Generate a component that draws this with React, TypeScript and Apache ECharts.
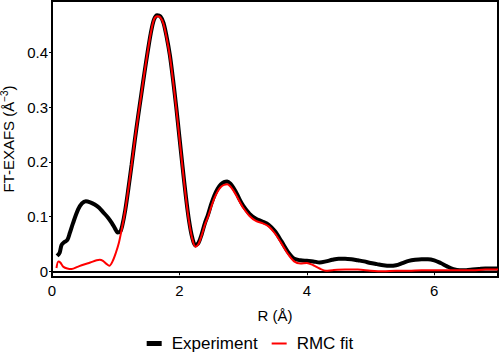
import React, { useEffect, useRef } from "react";
import * as echarts from "echarts";

const seriesNames = ["Experiment", "RMC fit"];

const expR = [0.08,0.12,0.15,0.19,0.24,0.28,0.33,0.41,0.47,0.53,0.60,0.67,0.74,0.81,0.88,0.94,0.99,1.03,1.07,1.10,1.15,1.20,1.25,1.30,1.35,1.40,1.45,1.50,1.55,1.60,1.65,1.70,1.75,1.80,1.85,1.90,1.95,2.00,2.05,2.10,2.15,2.20,2.25,2.30,2.35,2.40,2.45,2.50,2.55,2.60,2.65,2.70,2.75,2.80,2.85,2.90,2.95,3.00,3.10,3.20,3.30,3.40,3.50,3.60,3.70,3.80,3.90,4.00,4.10,4.20,4.30,4.40,4.50,4.60,4.70,4.80,4.90,5.00,5.10,5.20,5.30,5.40,5.50,5.60,5.70,5.80,5.90,6.00,6.10,6.20,6.30,6.40,6.50,6.60,6.70,6.80,6.90,7.00];
const expFT = [0.028,0.034,0.048,0.053,0.057,0.070,0.088,0.113,0.124,0.128,0.126,0.122,0.116,0.107,0.098,0.088,0.078,0.071,0.072,0.082,0.112,0.152,0.195,0.240,0.282,0.322,0.362,0.400,0.435,0.460,0.468,0.466,0.454,0.428,0.395,0.350,0.300,0.245,0.190,0.138,0.093,0.062,0.047,0.052,0.068,0.088,0.104,0.123,0.139,0.151,0.159,0.163,0.164,0.160,0.152,0.142,0.130,0.120,0.105,0.096,0.091,0.085,0.073,0.055,0.036,0.023,0.020,0.019,0.018,0.016,0.018,0.021,0.023,0.023,0.022,0.020,0.018,0.015,0.013,0.011,0.010,0.011,0.015,0.019,0.021,0.022,0.022,0.020,0.015,0.009,0.004,0.002,0.002,0.003,0.004,0.005,0.005,0.005];

const fitR = [0.07,0.10,0.13,0.18,0.24,0.31,0.40,0.49,0.60,0.70,0.75,0.80,0.85,0.90,0.95,1.00,1.05,1.10,1.15,1.20,1.25,1.30,1.35,1.40,1.45,1.50,1.55,1.60,1.65,1.70,1.75,1.80,1.85,1.90,1.95,2.00,2.05,2.10,2.15,2.20,2.25,2.30,2.35,2.40,2.45,2.50,2.55,2.60,2.65,2.70,2.75,2.80,2.85,2.90,2.95,3.00,3.10,3.20,3.30,3.40,3.50,3.60,3.70,3.80,3.90,4.00,4.10,4.20,4.30,4.40,4.60,4.80,5.00,5.20,5.40,5.60,5.80,6.00,6.20,6.40,6.60,6.80,7.00];
const fitFT = [0.006,0.018,0.016,0.008,0.005,0.004,0.008,0.012,0.016,0.020,0.021,0.019,0.014,0.010,0.018,0.033,0.052,0.080,0.112,0.152,0.195,0.240,0.282,0.322,0.362,0.400,0.435,0.460,0.466,0.464,0.452,0.426,0.393,0.348,0.298,0.243,0.188,0.136,0.091,0.060,0.045,0.050,0.066,0.085,0.100,0.118,0.134,0.146,0.154,0.158,0.159,0.155,0.147,0.137,0.126,0.116,0.101,0.092,0.088,0.082,0.069,0.051,0.032,0.018,0.014,0.015,0.011,0.005,0.001,0.002,0.003,0.003,0.001,0.000,0.001,0.001,0.002,0.002,0.002,0.002,0.002,0.003,0.003];

const xTicks = [0, 2, 4, 6];
const yTicks = [0, 0.1, 0.2, 0.3, 0.4];

export default function App() {
  const ref = useRef<HTMLDivElement>(null);
  useEffect(() => {
    const chart = echarts.init(ref.current!, null, { renderer: "svg" });
    const font = "Liberation Sans, Arial, sans-serif";
    chart.setOption({
      animation: false,
      grid: {
        left: 52,
        right: 2,
        top: 1,
        bottom: 85,
        containLabel: false,
        outerBoundsMode: "none",
        show: true,
        borderColor: "#000",
        borderWidth: 2,
        backgroundColor: "transparent",
      },
      legend: {
        bottom: 5,
        left: "center",
        itemWidth: 15,
        itemHeight: 5,
        itemGap: 14,
        textStyle: { fontFamily: font, fontSize: 17, color: "#000", padding: [0, 0, 0, 5] },
        data: [
          { name: seriesNames[0], icon: "rect" },
          { name: seriesNames[1], icon: "path://M0,0 M15,5 M0,1.5 L15,1.5 L15,3.5 L0,3.5 Z" },
        ],
      },
      xAxis: {
        type: "value",
        min: 0,
        max: 7,
        name: "R (Å)",
        nameLocation: "middle",
        nameGap: 31,
        nameTextStyle: { fontFamily: font, fontSize: 15, color: "#000" },
        axisLine: { lineStyle: { color: "#000", width: 2 } },
        axisTick: { length: 4, customValues: xTicks, lineStyle: { color: "#000" } },
        axisLabel: { customValues: xTicks, margin: 6, fontFamily: font, fontSize: 15, color: "#000" },
        splitLine: { show: false },
      },
      yAxis: {
        type: "value",
        min: -0.0105,
        max: 0.494,
        name: "FT-EXAFS (Å{sup|−3})",
        nameLocation: "middle",
        nameGap: 35,
        nameTextStyle: {
          fontFamily: font,
          fontSize: 15,
          color: "#000",
          rich: { sup: { fontFamily: font, fontSize: 10, color: "#000", verticalAlign: "top", padding: [0, 0, 8, 0] } },
        },
        axisLine: { lineStyle: { color: "#000", width: 2 } },
        axisTick: { length: 3, customValues: yTicks, lineStyle: { color: "#000" } },
        axisLabel: { customValues: yTicks, margin: 4, fontFamily: font, fontSize: 15, color: "#000" },
        splitLine: { show: false },
      },
      series: [
        {
          name: seriesNames[0],
          type: "line",
          data: expR.map((r, i) => [r, expFT[i]]),
          showSymbol: false,
          symbol: "none",
          smooth: 0.3,
          lineStyle: { color: "#000", width: 4 },
          itemStyle: { color: "#000" },
        },
        {
          name: seriesNames[1],
          type: "line",
          data: fitR.map((r, i) => [r, fitFT[i]]),
          showSymbol: false,
          symbol: "none",
          smooth: 0.3,
          lineStyle: { color: "#ff0000", width: 2 },
          itemStyle: { color: "#ff0000" },
        },
      ],
    });
    return () => chart.dispose();
  }, []);
  return <div ref={ref} style={{ width: 500, height: 362, position: "absolute", left: 0, top: 0 }} />;
}
